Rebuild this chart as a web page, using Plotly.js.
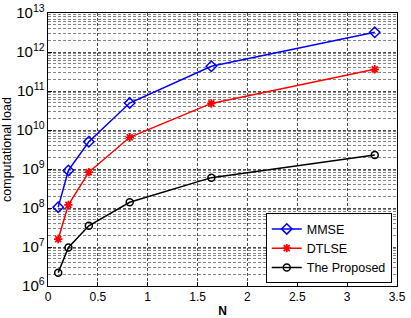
<!DOCTYPE html>
<html><head><meta charset="utf-8">
<script src="https://cdn.plot.ly/plotly-3.0.1.min.js"></script>
<style>html,body{margin:0;padding:0;background:#fff}#chart{width:411px;height:318px}</style>
</head><body><div id="chart"></div>
<script>
const N = [1024, 2048, 4096, 8192, 16384, 32768];
const mmse = [1.05e8, 9.2e8, 5.0e9, 4.9e10, 4.3e11, 3.2e12];
const dtlse = [1.6e7, 1.2e8, 8.3e8, 6.5e9, 4.8e10, 3.6e11];
const proposed = [2.2e6, 9.7e6, 3.5e7, 1.4e8, 6.0e8, 2.3e9];
const xTickVals = [0, 5000, 10000, 15000, 20000, 25000, 30000, 35000];
const xTickText = ["0", "0.5", "1", "1.5", "2", "2.5", "3", "3.5"];

const FAM = "Liberation Sans, Arial, sans-serif";
const traces = [
  {x: N, y: mmse, name: "MMSE", mode: "lines+markers",
   line: {color: "#0000ff", width: 1.5},
   marker: {symbol: "diamond-open", size: 8, color: "#0000ff", line: {width: 1.5}}},
  {x: N, y: dtlse, name: "DTLSE", mode: "lines+markers",
   line: {color: "#ff0000", width: 1.5},
   marker: {symbol: "asterisk-open", size: 7, color: "#ff0000", line: {width: 1.8}}},
  {x: N, y: proposed, name: "The Proposed", mode: "lines+markers",
   line: {color: "#000000", width: 1.5},
   marker: {symbol: "circle-open", size: 7, color: "#000000", line: {width: 1.5}}}
];
const layout = {
  width: 411, height: 318,
  margin: {l: 48, r: 14, t: 13, b: 32},
  paper_bgcolor: "#fff", plot_bgcolor: "#fff",
  font: {family: FAM, size: 12, color: "#000"},
  showlegend: true,
  legend: {x: 0.985, y: 0.01, xanchor: "right", yanchor: "bottom",
    bgcolor: "#fff", bordercolor: "#000", borderwidth: 1,
    font: {family: FAM, size: 12.5, color: "#000"},
    tracegroupgap: 0, itemwidth: 30},
  xaxis: {range: [0, 35000], tickvals: xTickVals, ticktext: xTickText,
    showgrid: true, gridcolor: "#222", griddash: "3px,2px", gridwidth: 0.8,
    showline: true, linecolor: "#000", linewidth: 1, mirror: true,
    ticks: "inside", ticklen: 4, tickcolor: "#000", zeroline: false,
    tickfont: {family: FAM, size: 12, color: "#000"},
    title: {text: "<b>N</b>", standoff: 6, font: {family: FAM, size: 12, color: "#000"}}},
  yaxis: {type: "log", range: [6, 13], dtick: 1, exponentformat: "power",
    showgrid: true, gridcolor: "#222", griddash: "3px,2px", gridwidth: 0.8,
    minor: {showgrid: true, gridcolor: "#333", griddash: "3px,2px", gridwidth: 0.6, dtick: "D1", ticks: ""},
    showline: true, linecolor: "#000", linewidth: 1, mirror: true,
    ticks: "inside", ticklen: 4, tickcolor: "#000", zeroline: false,
    tickfont: {family: FAM, size: 12, color: "#000"},
    title: {text: "computational load", standoff: 2, font: {family: FAM, size: 12.5, color: "#000"}}},
  annotations: [{text: "x 10<sup>4</sup>", xref: "paper", yref: "paper", x: 1.02, y: -0.115,
    xanchor: "right", yanchor: "top", showarrow: false,
    font: {family: FAM, size: 11, color: "#000"}}]
};
Plotly.newPlot("chart", traces, layout, {displayModeBar: false, staticPlot: true});
</script></body></html>
